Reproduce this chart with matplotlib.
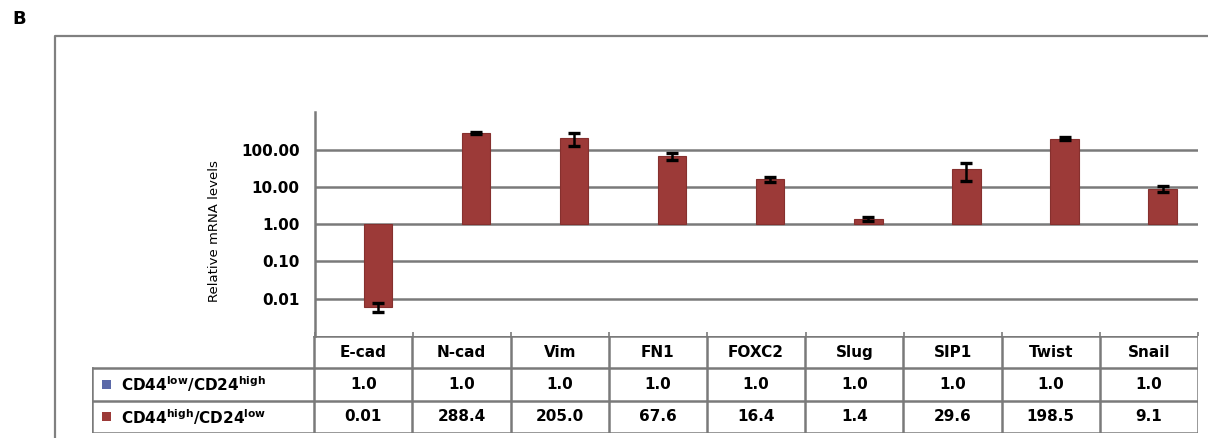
import numpy as np
import matplotlib
matplotlib.use("Agg")
import matplotlib.pyplot as plt
from matplotlib.lines import Line2D
from matplotlib.patches import Rectangle

plt.rcParams['font.family'] = ['DejaVu Sans']
plt.rcParams['mathtext.fontset'] = 'custom'
plt.rcParams['mathtext.rm'] = 'DejaVu Sans'
plt.rcParams['mathtext.bf'] = 'DejaVu Sans:bold'

# -------------------------------
# Data
# -------------------------------
genes = ["E-cad", "N-cad", "Vim", "FN1", "FOXC2", "Slug", "SIP1", "Twist", "Snail"]
series_names = [r"$\mathbf{CD44^{low}/CD24^{high}}$",
                r"$\mathbf{CD44^{high}/CD24^{low}}$"]
low_values = [1.0, 1.0, 1.0, 1.0, 1.0, 1.0, 1.0, 1.0, 1.0]
high_values = [0.006, 288.4, 205.0, 67.6, 16.4, 1.4, 29.6, 198.5, 9.1]
high_errors = [0.0015, 20, 75, 13, 2.5, 0.15, 15, 20, 1.8]
y_ticks = [0.01, 0.1, 1, 10, 100]

blue = "#5b69a8"
red = "#9c3a38"
line_gray = "#7a7a7a"
fsize = 11


def fmt(v):
    return f"{v:.1f}" if v >= 0.1 else f"{v:.2f}"


# -------------------------------
# Layout helpers (pixel boxes)
# -------------------------------
W, H = 1208, 438
fig = plt.figure(figsize=(W / 100, H / 100), dpi=100)


def box(l, t, r, b):
    return [l / W, 1 - b / H, (r - l) / W, (b - t) / H]


# outer panel frame
fig.add_artist(Line2D([55 / W, 55 / W, 1.0], [0.0, 1 - 36 / H, 1 - 36 / H],
                      transform=fig.transFigure, color="#808080", lw=1.6))
fig.text(12 / W, 1 - 19 / H, "B", fontsize=13, fontweight="bold", va="center")

# -------------------------------
# Bar chart
# -------------------------------
ax = fig.add_axes(box(315, 112.5, 1198, 336))
x = np.arange(len(genes))
off, bw = 0.14, 0.29

ax.set_yscale("log")
ax.set_ylim(0.001, 1000)
ax.set_xlim(-0.5, len(genes) - 0.5)

low = np.array(low_values)
high = np.array(high_values)
ax.bar(x - off, low - 1, bottom=1, width=bw, color=blue, zorder=3)
ax.bar(x + off, high - 1, bottom=1, width=bw, color=red,
       edgecolor="#86302e", lw=0.8, zorder=3)
ax.errorbar(x + off, high, yerr=high_errors, fmt="none", ecolor="black",
            elinewidth=1.8, capsize=4.5, capthick=2.4, zorder=4)

ax.set_yticks(y_ticks)
ax.yaxis.set_minor_locator(matplotlib.ticker.NullLocator())
ax.yaxis.set_major_formatter(matplotlib.ticker.FormatStrFormatter("%.2f"))
for lab in ax.get_yticklabels():
    lab.set_fontweight("bold")
    lab.set_fontsize(fsize)
ax.tick_params(axis="y", length=0, pad=11)
ax.yaxis.grid(True, color=line_gray, lw=1.8, zorder=1)

ax.set_xticks(np.arange(len(genes) + 1) - 0.5)
ax.set_xticklabels([])
ax.tick_params(axis="x", direction="in", length=3, width=1.2, color=line_gray)

for s in ["top", "right", "bottom"]:
    ax.spines[s].set_visible(False)
ax.spines["left"].set_color(line_gray)
ax.spines["left"].set_linewidth(1.8)

fig.text(215 / W, 1 - 231 / H, "Relative mRNA levels", rotation=90,
         fontsize=9.5, ha="center", va="center")

# -------------------------------
# Data table under the chart
# -------------------------------
label_w = 222 / 98.1
tx = fig.add_axes(box(92, 336, 1198, 433))
tx.set_xlim(-0.5 - label_w, len(genes) - 0.5)
tx.set_ylim(3, 0)
tx.axis("off")

left = -0.5 - label_w
right = len(genes) - 0.5
kw = dict(color=line_gray, lw=1.8, solid_capstyle="projecting")
tx.plot([-0.5, right], [0, 0], **kw)
for yy in [1, 2, 3]:
    tx.plot([left, right], [yy, yy], **kw)
tx.plot([left, left], [1, 3], **kw)
for xx in np.arange(len(genes) + 1) - 0.5:
    tx.plot([xx, xx], [0, 3], **kw)

for i, g in enumerate(genes):
    tx.text(i, 0.5, g, ha="center", va="center", fontsize=fsize, fontweight="bold")
    tx.text(i, 1.5, fmt(low_values[i]), ha="center", va="center",
            fontsize=fsize, fontweight="bold")
    tx.text(i, 2.5, fmt(high_values[i]), ha="center", va="center",
            fontsize=fsize, fontweight="bold")

for row, (name, c) in enumerate(zip(series_names, [blue, red])):
    yc = 1.5 + row
    tx.add_patch(Rectangle((left + 10 / 98.1, yc - 0.14), 9 / 98.1, 0.28,
                           color=c, lw=0))
    tx.text(left + 29 / 98.1, yc, name, ha="left", va="center", fontsize=fsize)

fig.savefig("out.png", dpi=100)
